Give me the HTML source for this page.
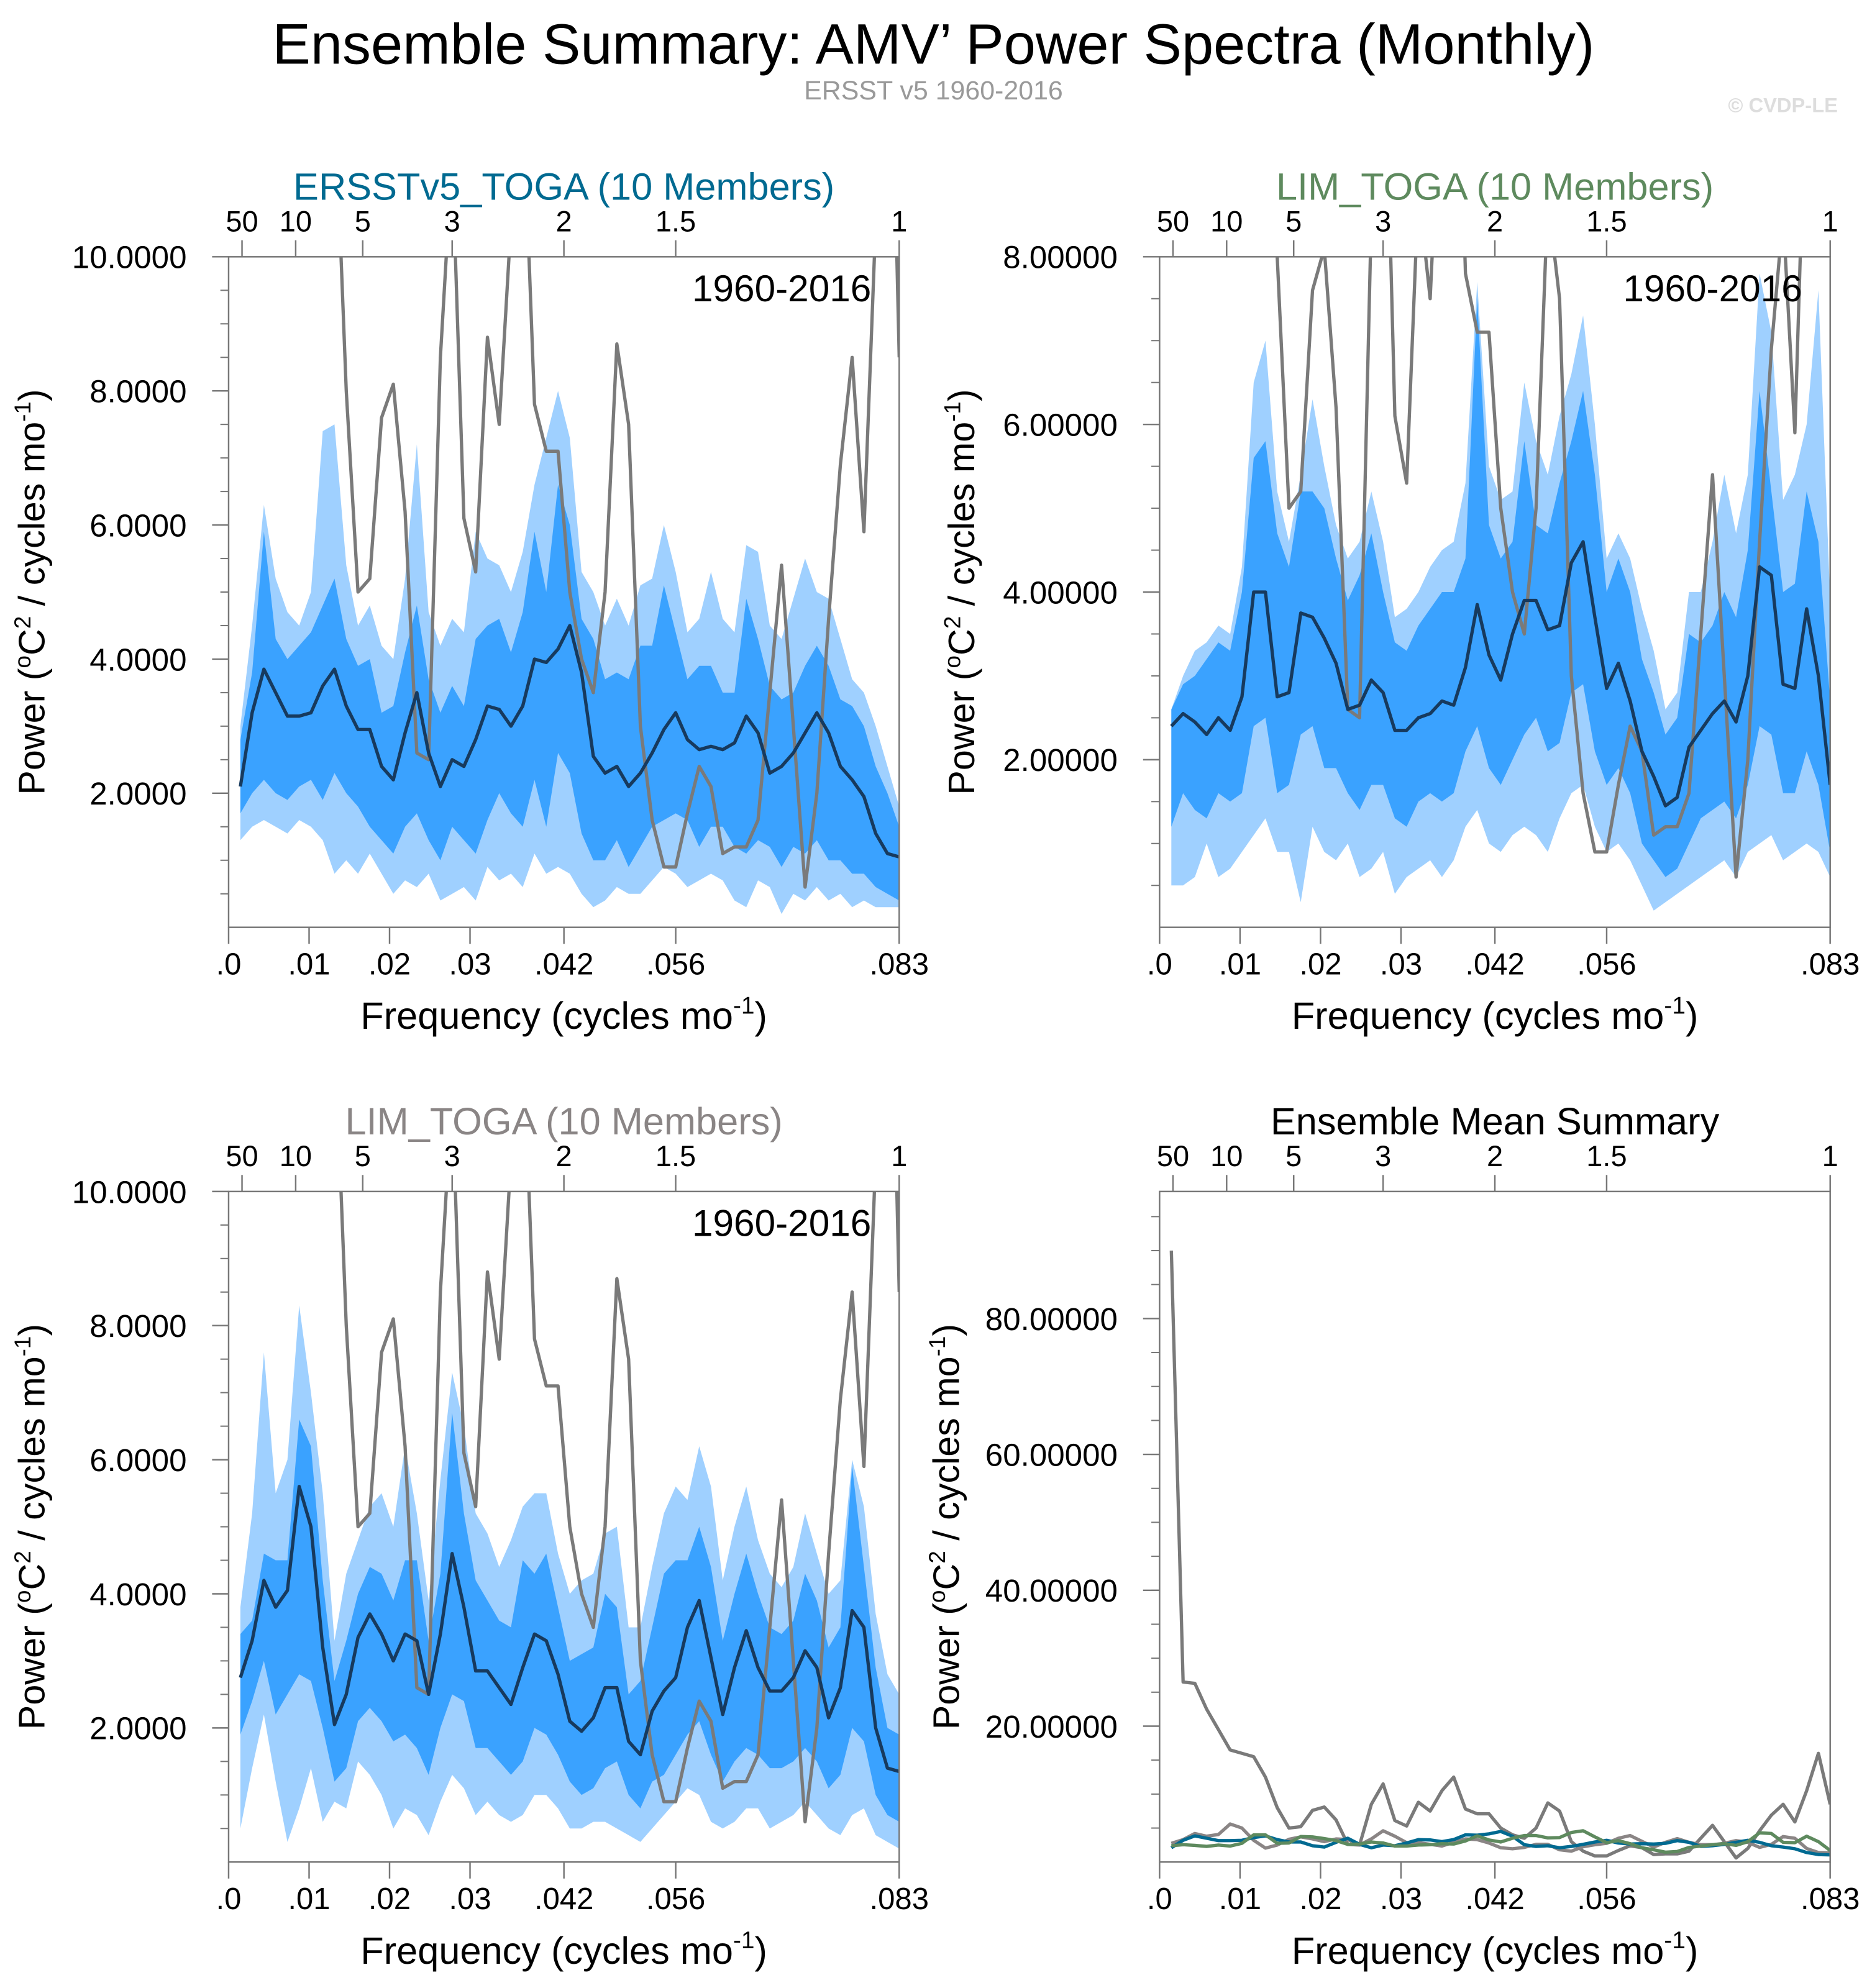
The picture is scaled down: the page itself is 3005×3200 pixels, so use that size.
<!DOCTYPE html>
<html><head><meta charset="utf-8"><style>
html,body{margin:0;padding:0;background:#fff}
svg{display:block;font-family:"Liberation Sans",sans-serif}
</style></head><body>
<svg id="fig" xmlns="http://www.w3.org/2000/svg" width="3005" height="3200" viewBox="0 0 1470 1565">
<text x="735" y="50" font-size="45" text-anchor="middle">Ensemble Summary: AMV’ Power Spectra (Monthly)</text>
<text x="735" y="78" font-size="21" fill="#999" text-anchor="middle">ERSST v5 1960-2016</text>
<text x="1447" y="88" font-size="16" font-weight="bold" fill="#ddd" text-anchor="end">© CVDP-LE</text>
</svg>
<script>
const obs=[90,26.5,26.3,22.5,19.5,16.5,16,15.5,12.5,8,
5.0,5.2,7.6,8.1,6.2,2.6,2.5,8.5,11.5,6.1,
5.3,8.8,7.5,10.5,12.5,7.8,7.1,7.1,5.0,4.0,
3.5,5.0,8.7,7.5,3.0,1.6,0.9,0.9,1.7,2.4,
2.1,1.1,1.2,1.2,1.6,3.5,5.4,3.0,0.6,2.0,
4.6,6.9,8.5,5.9,10.5,16,8.5];
const p1Mean=[2.1,3.2,3.85,3.5,3.15,3.15,3.2,3.6,3.85,3.3,
2.95,2.95,2.4,2.2,2.9,3.5,2.6,2.1,2.5,2.4,
2.8,3.3,3.25,3.0,3.3,4.0,3.95,4.15,4.5,3.8,
2.55,2.3,2.4,2.1,2.3,2.6,2.95,3.2,2.8,2.65,
2.7,2.65,2.75,3.15,2.9,2.3,2.4,2.6,2.9,3.2,
2.9,2.4,2.2,1.95,1.4,1.1,1.05];
const p1InHi=[2.8,3.8,5.9,4.3,4.0,4.2,4.4,4.8,5.2,4.3,
3.9,4.0,3.2,3.3,4.1,4.8,3.7,3.2,3.6,3.3,
4.3,4.5,4.6,4.1,4.7,5.9,5.0,6.6,6.0,4.6,
4.3,3.7,3.8,3.7,4.2,4.2,5.1,4.4,3.7,3.9,
3.9,3.5,3.5,4.9,4.3,3.6,3.4,3.5,3.9,4.2,
3.9,3.4,3.3,3.0,2.4,2.0,1.5];
const p1InLo=[1.7,2.0,2.2,2.0,1.9,2.1,2.2,1.9,2.3,2.0,
1.8,1.5,1.3,1.1,1.5,1.7,1.3,1.0,1.5,1.3,
1.1,1.6,2.0,1.7,1.5,2.2,1.5,2.6,2.3,1.4,
1.0,1.0,1.3,0.9,1.2,1.5,1.6,1.7,1.6,1.2,
1.5,1.5,1.2,1.1,1.3,1.2,0.9,1.2,1.1,1.3,
1.0,1.0,0.8,0.8,0.6,0.5,0.4];
const p1OutHi=[3.0,4.5,6.3,5.2,4.7,4.5,5.0,7.4,7.5,5.4,
4.5,4.8,4.2,4.0,5.2,7.2,4.7,4.2,4.6,4.4,
5.9,5.5,5.4,5.0,5.6,6.6,7.3,8.0,7.3,5.3,
5.0,4.5,4.9,4.5,5.1,5.2,6.0,5.3,4.4,4.6,
5.3,4.6,4.4,5.7,5.6,4.5,4.3,4.9,5.5,5.0,
4.9,4.3,3.7,3.5,3.0,2.4,1.8];
const p1OutLo=[1.3,1.5,1.6,1.5,1.4,1.6,1.5,1.3,0.8,1.0,
0.8,1.1,0.8,0.5,0.7,0.6,0.8,0.4,0.5,0.6,
0.4,0.9,0.7,0.8,0.6,1.1,0.8,0.9,0.8,0.5,
0.3,0.4,0.6,0.5,0.5,0.7,0.9,0.8,0.6,0.7,
0.8,0.7,0.4,0.3,0.7,0.6,0.2,0.5,0.4,0.6,
0.4,0.5,0.3,0.4,0.3,0.3,0.3];
const p2Mean=[2.4,2.55,2.45,2.3,2.5,2.35,2.75,4.0,4.0,2.75,
2.8,3.75,3.7,3.45,3.15,2.6,2.65,2.95,2.8,2.35,
2.35,2.5,2.55,2.7,2.65,3.1,3.85,3.25,2.95,3.5,
3.9,3.9,3.55,3.6,4.35,4.6,3.7,2.85,3.15,2.7,
2.1,1.8,1.45,1.55,2.15,2.35,2.55,2.7,2.45,3.0,
4.3,4.2,2.9,2.85,3.8,3.0,1.7];
const p2InHi=[2.6,2.9,3.0,3.2,3.4,3.3,4.0,5.6,5.8,4.7,
4.3,5.2,5.2,5.0,4.4,3.9,4.2,4.7,4.0,3.4,
3.3,3.6,3.8,4.0,4.0,4.4,7.5,4.8,4.4,4.6,
5.8,4.8,4.7,5.3,5.8,6.4,5.4,4.0,4.4,4.0,
3.2,2.8,2.3,2.5,3.5,3.4,3.6,4.0,3.7,4.5,
6.4,5.2,4.0,4.1,5.2,4.6,2.7];
const p2InLo=[1.2,1.6,1.4,1.3,1.6,1.5,1.6,2.4,2.5,1.6,
1.7,2.3,2.4,1.9,1.9,1.6,1.4,1.7,1.7,1.3,
1.2,1.5,1.6,1.5,1.6,2.1,2.4,1.9,1.7,2.0,
2.3,2.5,2.1,2.2,2.8,2.9,2.1,1.7,1.9,1.6,
1.0,0.8,0.6,0.7,1.0,1.3,1.4,1.5,1.3,1.7,
2.4,2.3,1.6,1.6,2.1,1.7,0.9];
const p2OutHi=[2.6,3.0,3.3,3.4,3.6,3.5,4.3,6.5,7.0,5.2,
4.6,5.4,6.3,5.5,4.8,4.4,4.6,5.2,4.6,3.7,
3.8,4.0,4.3,4.5,4.6,5.3,7.7,5.5,5.1,5.2,
6.5,5.8,5.4,6.1,6.6,7.3,6.0,4.4,4.7,4.4,
3.8,3.3,2.6,2.8,4.0,4.0,4.6,5.4,4.7,5.4,
7.8,7.1,5.1,5.4,6.0,7.6,3.9];
const p2OutLo=[0.5,0.5,0.6,1.0,0.6,0.7,0.9,1.1,1.3,0.9,
0.9,0.3,1.2,0.9,0.8,1.0,0.6,0.7,0.9,0.4,
0.6,0.7,0.8,0.6,0.8,1.2,1.4,1.0,0.9,1.1,
1.2,1.1,0.9,1.3,1.6,1.7,1.2,0.9,1.0,0.8,
0.5,0.2,0.3,0.4,0.5,0.6,0.7,0.8,0.6,0.9,
1.0,1.1,0.8,0.9,1.0,0.9,0.6];
const p3Mean=[2.75,3.3,4.2,3.8,4.05,5.6,5.0,3.2,2.05,2.5,
3.35,3.7,3.4,3.0,3.4,3.3,2.5,3.4,4.6,3.8,
2.85,2.85,2.6,2.35,2.9,3.4,3.3,2.8,2.1,1.95,
2.15,2.6,2.6,1.8,1.6,2.25,2.55,2.75,3.5,3.9,
3.05,2.2,2.9,3.45,2.9,2.55,2.55,2.75,3.15,2.9,
2.15,2.6,3.75,3.5,2.0,1.4,1.35];
const p3InHi=[3.4,3.6,4.6,4.5,4.5,6.6,6.2,4.2,2.7,3.3,
4.0,4.4,4.3,3.9,4.5,4.5,3.3,4.3,6.7,5.2,
4.2,3.9,3.6,3.5,4.5,4.3,4.6,3.8,3.0,3.1,
3.2,4.0,3.8,2.5,2.7,3.5,4.3,4.5,4.5,5.0,
4.4,3.3,4.0,4.6,4.0,3.5,3.4,3.6,4.3,3.9,
3.2,3.5,5.9,4.4,2.9,2.0,1.9];
const p3InLo=[1.9,2.4,3.0,2.2,2.5,2.8,2.7,2.0,1.2,1.4,
2.1,2.3,2.1,1.8,1.9,1.7,1.3,2.0,2.5,2.4,
1.7,1.7,1.5,1.3,1.5,2.0,1.9,1.6,1.2,1.0,
1.1,1.4,1.5,1.0,0.8,1.2,1.3,1.6,1.9,2.1,
1.6,1.2,1.5,1.7,1.6,1.4,1.4,1.5,1.7,1.5,
1.1,1.3,2.0,1.8,1.0,0.7,0.6];
const p3OutHi=[3.8,5.2,7.6,5.5,6.0,8.3,7.0,5.5,3.3,4.3,
4.8,5.3,5.5,5.0,6.2,5.2,3.9,5.7,7.3,6.5,
5.2,4.9,4.4,4.8,5.3,5.5,5.5,4.6,4.0,4.2,
4.3,4.9,5.0,3.5,3.5,4.4,5.2,5.6,5.4,6.2,
5.6,4.2,5.0,5.6,4.8,4.3,4.1,4.4,5.2,4.6,
4.0,4.2,6.0,5.3,3.7,2.8,2.5];
const p3OutLo=[0.5,1.4,2.2,1.2,0.3,0.8,1.4,0.6,0.9,0.8,
1.5,1.3,1.0,0.5,0.8,0.7,0.4,0.9,1.3,1.1,
0.7,0.9,0.7,0.6,0.7,1.0,1.0,0.8,0.5,0.5,
0.6,0.6,0.5,0.4,0.3,0.5,0.7,0.9,1.1,1.0,
0.6,0.5,0.6,0.8,0.8,0.5,0.6,0.7,0.9,0.7,
0.5,0.4,0.7,0.8,0.4,0.3,0.2];
const xTickVals=[0,0.01,0.02,0.03,0.04167,0.05556,0.08333];
const xTickLabels=[".0",".01",".02",".03",".042",".056",".083"];
const periodVals=[50,10,5,3,2,1.5,1];
const periodLabels=["50","10","5","3","2","1.5","1"];

const NS="http://www.w3.org/2000/svg";
const svg=document.getElementById('fig');
const W=528,H=528,FMAX=1/12,DF=1/684;
function mk(tag,attrs,parent){const e=document.createElementNS(NS,tag);for(const k in attrs)e.setAttribute(k,attrs[k]);(parent||svg).appendChild(e);return e;}

function panel(id,ox,oy,ymax,yMajors,yMinorStep,fmt,title,titleColor,showYear,ytOff,series){
  const g=mk('g',{});
  
  
  const sx=f=>ox+f/FMAX*W, sy=v=>oy+H-v/ymax*H;
  const cp=mk('clipPath',{id:'clip-'+id},g);
  mk('rect',{x:ox,y:oy,width:W,height:H},cp);
  const plot=mk('g',{'clip-path':'url(#clip-'+id+')'},g);
  
  
  series.forEach(s=>{
    if(s.type==='band'){
      let pts=[];
      s.hi.forEach((v,i)=>pts.push(sx((i+1)*DF)+','+sy(v)));
      for(let i=s.lo.length-1;i>=0;i--)pts.push(sx((i+1)*DF)+','+sy(s.lo[i]));
      const p=mk('polygon',{points:pts.join(' '),fill:s.color},plot);
      
      
    }else{
      const pts=s.vals.map((v,i)=>sx((i+1)*DF)+','+sy(v)).join(' ');
      const l=mk('polyline',{points:pts,fill:'none',stroke:s.color,'stroke-width':s.w||2.6,'stroke-linejoin':'round'},plot);
      
      
    }
  });
  mk('rect',{x:ox,y:oy,width:W,height:H,fill:'none',stroke:'#777','stroke-width':1.2},g);
  for(let v=yMinorStep;v<ymax;v+=yMinorStep){
    mk('line',{x1:ox-6.5,x2:ox,y1:sy(v),y2:sy(v),stroke:'#777','stroke-width':1},g);
  }
  yMajors.forEach(v=>{
    mk('line',{x1:ox-13,x2:ox,y1:sy(v),y2:sy(v),stroke:'#777','stroke-width':1.2},g);
    const t=mk('text',{x:ox-33,y:sy(v)+9,'font-size':25,'text-anchor':'end'},g);
    t.textContent=fmt(v);
    
    
  });
  xTickVals.forEach((f,i)=>{
    mk('line',{x1:sx(f),x2:sx(f),y1:oy+H,y2:oy+H+13,stroke:'#777','stroke-width':1.2},g);
    const t=mk('text',{x:sx(f),y:oy+H+37,'font-size':24,'text-anchor':'middle'},g);
    t.textContent=xTickLabels[i];
    
    
  });
  periodVals.forEach((p,i)=>{
    const x=sx(1/(12*p));
    mk('line',{x1:x,x2:x,y1:oy-13,y2:oy,stroke:'#777','stroke-width':1.2},g);
    const t=mk('text',{x:x,y:oy-20,'font-size':23,'text-anchor':'middle'},g);
    t.textContent=periodLabels[i];
    
    
  });
  const tt=mk('text',{x:ox+W/2,y:oy-45,'font-size':30,'text-anchor':'middle',fill:titleColor},g);
  tt.textContent=title;
  
  
  if(showYear){
    const yt=mk('text',{x:ox+W-22,y:oy+35,'font-size':29.5,'text-anchor':'end'},g);
    yt.textContent='1960-2016';
    
    
  }
  const xt=mk('text',{x:ox+W/2,y:oy+H+80,'font-size':30,'text-anchor':'middle'},g);
  xt.innerHTML='Frequency (cycles mo<tspan dy="-12" font-size="19">-1</tspan><tspan dy="12">)</tspan>';
  
  
  const yt=mk('text',{x:0,y:0,'font-size':29,'text-anchor':'middle',transform:'translate('+(ox-ytOff)+','+(oy+H/2)+') rotate(-90)'},g);
  yt.innerHTML='Power (<tspan dy="-11" font-size="18">o</tspan><tspan dy="11">C</tspan><tspan dy="-11" font-size="18">2</tspan><tspan dy="11"> / cycles mo</tspan><tspan dy="-11" font-size="18">-1</tspan><tspan dy="11">)</tspan>';
  
  
}
const f4=v=>v.toFixed(4), f5=v=>v.toFixed(5);
const LB='#9fd0ff', DB='#3aa2ff', ML='#173a5e', OG='#7a7a7a';
panel('panel-ersst',180,202,10,[2,4,6,8,10],0.5,f4,'ERSSTv5_TOGA (10 Members)','#006a91',true,145,[
  {type:'band',name:'outer-spread-band',hi:p1OutHi,lo:p1OutLo,color:LB},
  {type:'band',name:'inner-spread-band',hi:p1InHi,lo:p1InLo,color:DB},
  {type:'line',name:'observed-spectrum',vals:obs,color:OG},
  {type:'line',name:'ensemble-mean-line',vals:p1Mean,color:ML}]);
panel('panel-lim',913,202,8,[2,4,6,8],0.5,f5,'LIM_TOGA (10 Members)','#5e8a5e',true,146,[
  {type:'band',name:'outer-spread-band',hi:p2OutHi,lo:p2OutLo,color:LB},
  {type:'band',name:'inner-spread-band',hi:p2InHi,lo:p2InLo,color:DB},
  {type:'line',name:'observed-spectrum',vals:obs,color:OG},
  {type:'line',name:'ensemble-mean-line',vals:p2Mean,color:ML}]);
panel('panel-lim-2',180,938,10,[2,4,6,8,10],0.5,f4,'LIM_TOGA (10 Members)','#8a8585',true,145,[
  {type:'band',name:'outer-spread-band',hi:p3OutHi,lo:p3OutLo,color:LB},
  {type:'band',name:'inner-spread-band',hi:p3InHi,lo:p3InLo,color:DB},
  {type:'line',name:'observed-spectrum',vals:obs,color:OG},
  {type:'line',name:'ensemble-mean-line',vals:p3Mean,color:ML}]);
panel('panel-ensemble-mean-summary',913,938,98.7,[20,40,60,80],5,f5,'Ensemble Mean Summary','#000',false,158,[
  {type:'line',name:'observed-spectrum',vals:obs,color:OG},
  {type:'line',name:'lim-toga-2-mean',vals:p3Mean,color:'#8a8585'},
  {type:'line',name:'ersst-toga-mean',vals:p1Mean,color:'#006a91'},
  {type:'line',name:'lim-toga-mean',vals:p2Mean,color:'#5e8a5e'}]);
</script>
</body></html>
